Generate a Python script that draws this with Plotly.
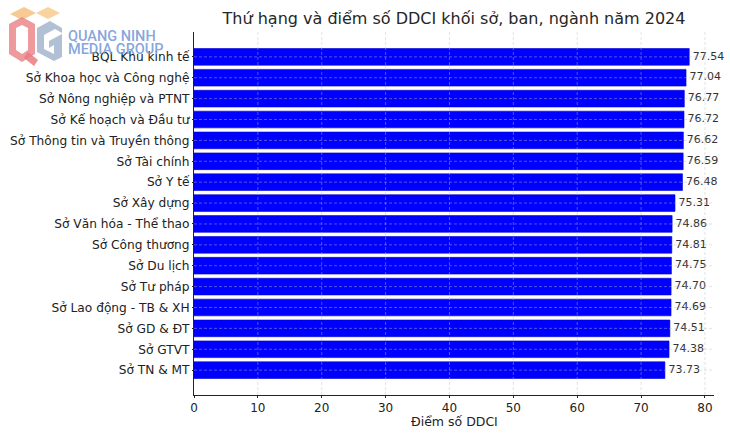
import base64
import plotly.graph_objects as go

categories = [
    "BQL Khu kinh tế",
    "Sở Khoa học và Công nghệ",
    "Sở Nông nghiệp và PTNT",
    "Sở Kế hoạch và Đầu tư",
    "Sở Thông tin và Truyền thông",
    "Sở Tài chính",
    "Sở Y tế",
    "Sở Xây dựng",
    "Sở Văn hóa - Thể thao",
    "Sở Công thương",
    "Sở Du lịch",
    "Sở Tư pháp",
    "Sở Lao động - TB & XH",
    "Sở GD & ĐT",
    "Sở GTVT",
    "Sở TN & MT",
]
scores = [77.54, 77.04, 76.77, 76.72, 76.62, 76.59, 76.48, 75.31,
          74.86, 74.81, 74.75, 74.70, 74.69, 74.51, 74.38, 73.73]
x_ticks = [0, 10, 20, 30, 40, 50, 60, 70, 80]

title = "Thứ hạng và điểm số DDCI khối sở, ban, ngành năm 2024"
x_title = "Điểm số DDCI"

FONT = "DejaVu Sans"

fig = go.Figure()
fig.add_trace(go.Bar(
    x=scores,
    y=categories,
    orientation="h",
    marker=dict(color="#0000ff", line=dict(color="#0000cc", width=0.6)),
    hoverinfo="x+y",
))
# value labels to the right of each bar
fig.add_trace(go.Scatter(
    x=scores,
    y=categories,
    mode="text",
    text=[f" {v:.2f}" for v in scores],
    textposition="middle right",
    textfont=dict(family=FONT, size=11, color="#333333"),
    cliponaxis=False,
    hoverinfo="skip",
))

n = len(categories)
xmax = max(scores) * 1.05
ypad = 0.4 + 0.05 * (n - 1 + 0.8)

grid_color = "rgba(190,190,190,0.55)"
shapes = []
for t in x_ticks[1:]:
    shapes.append(dict(type="line", xref="x", yref="paper", x0=t, x1=t, y0=0, y1=1,
                       line=dict(color=grid_color, width=0.8, dash="3px,2px"), layer="above"))
for c in categories:
    shapes.append(dict(type="line", xref="paper", yref="y", x0=0, x1=1, y0=c, y1=c,
                       line=dict(color=grid_color, width=0.8, dash="3px,2px"), layer="above"))

# simple logo watermark as inline svg (pixel box 60x66)
svg = """<svg xmlns='http://www.w3.org/2000/svg' width='60' height='66' viewBox='0 0 60 66'>
<polygon points='8,12 22,5 34,11 20,18' fill='#f5b66a' opacity='0.9'/>
<polygon points='34,11 46,5 58,11 46,17' fill='#f7c27a' opacity='0.9'/>
<path fill-rule='evenodd' fill='#e66a6f' opacity='0.85'
 d='M7,22 L20,15 L33,22 L33,52 L20,60 L7,52 Z M14,26 L20,23 L26,26 L26,48 L20,52 L14,48 Z'/>
<polygon points='26,50 36,58 32,64 22,56' fill='#e45a62' opacity='0.85'/>
<polygon points='35,26 48,19 60,26 60,31 53,27 42,33 42,47 52,52 52,43 47,46 47,39 60,32 60,55 52,59 35,50' fill='#8ea3c4' opacity='0.85'/>
</svg>"""
svg_uri = "data:image/svg+xml;base64," + base64.b64encode(svg.encode()).decode()

L, R, T, B = 194, 16, 32, 43
PW, PH = 730 - L - R, 438 - T - B


def px_x(p):
    return (p - L) / PW


def px_y(p):
    return (438 - B - p) / PH


logo_color = "rgba(120,155,215,0.9)"

fig.update_layout(
    width=730, height=438,
    margin=dict(l=L, r=R, t=T, b=B, autoexpand=False),
    paper_bgcolor="white", plot_bgcolor="white",
    font=dict(family=FONT, size=12, color="black"),
    title=dict(text=title, x=0.5, xref="paper", xanchor="center",
               y=1 - 18 / 438, yanchor="middle", yref="container",
               font=dict(family=FONT, size=16, color="#262626")),
    bargap=0.2,
    showlegend=False,
    shapes=shapes,
    xaxis=dict(range=[0, xmax], tickvals=x_ticks, showgrid=False, zeroline=False,
               automargin=False,
               showline=True, linecolor="#222222", linewidth=1, ticks="outside",
               ticklen=2, tickcolor="#222222",
               tickfont=dict(family=FONT, size=12, color="#222222")),
    yaxis=dict(categoryorder="array", categoryarray=categories,
               range=[n - 1 + ypad, -ypad], showgrid=False, zeroline=False,
               automargin=False,
               showline=True, linecolor="#222222", linewidth=1, ticks="outside",
               ticklen=1, tickcolor="#222222",
               tickfont=dict(family=FONT, size=12.2, color="#222222")),
    images=[dict(source=svg_uri, xref="paper", yref="paper",
                 x=px_x(2), y=px_y(2), sizex=60 / PW, sizey=66 / PH,
                 xanchor="left", yanchor="top", sizing="stretch", layer="above", opacity=0.8)],
    annotations=[
        dict(text=x_title, xref="paper", yref="paper", x=0.5, y=px_y(421),
             xanchor="center", yanchor="middle", showarrow=False,
             font=dict(family=FONT, size=12.5, color="#222222")),
        dict(text="QUANG NINH", xref="paper", yref="paper", x=px_x(66),
             y=px_y(36), xanchor="left", yanchor="middle", showarrow=False,
             font=dict(family="Roboto", size=14.5, weight=500, color=logo_color)),
        dict(text="MEDIA GROUP", xref="paper", yref="paper", x=px_x(66),
             y=px_y(49), xanchor="left", yanchor="middle", showarrow=False,
             font=dict(family="Roboto", size=14.5, weight=500, color=logo_color)),
    ],
)

fig.write_html("out.html", config={"displayModeBar": False},
               post_script="document.body.style.margin='0';document.body.style.overflow='hidden';")
